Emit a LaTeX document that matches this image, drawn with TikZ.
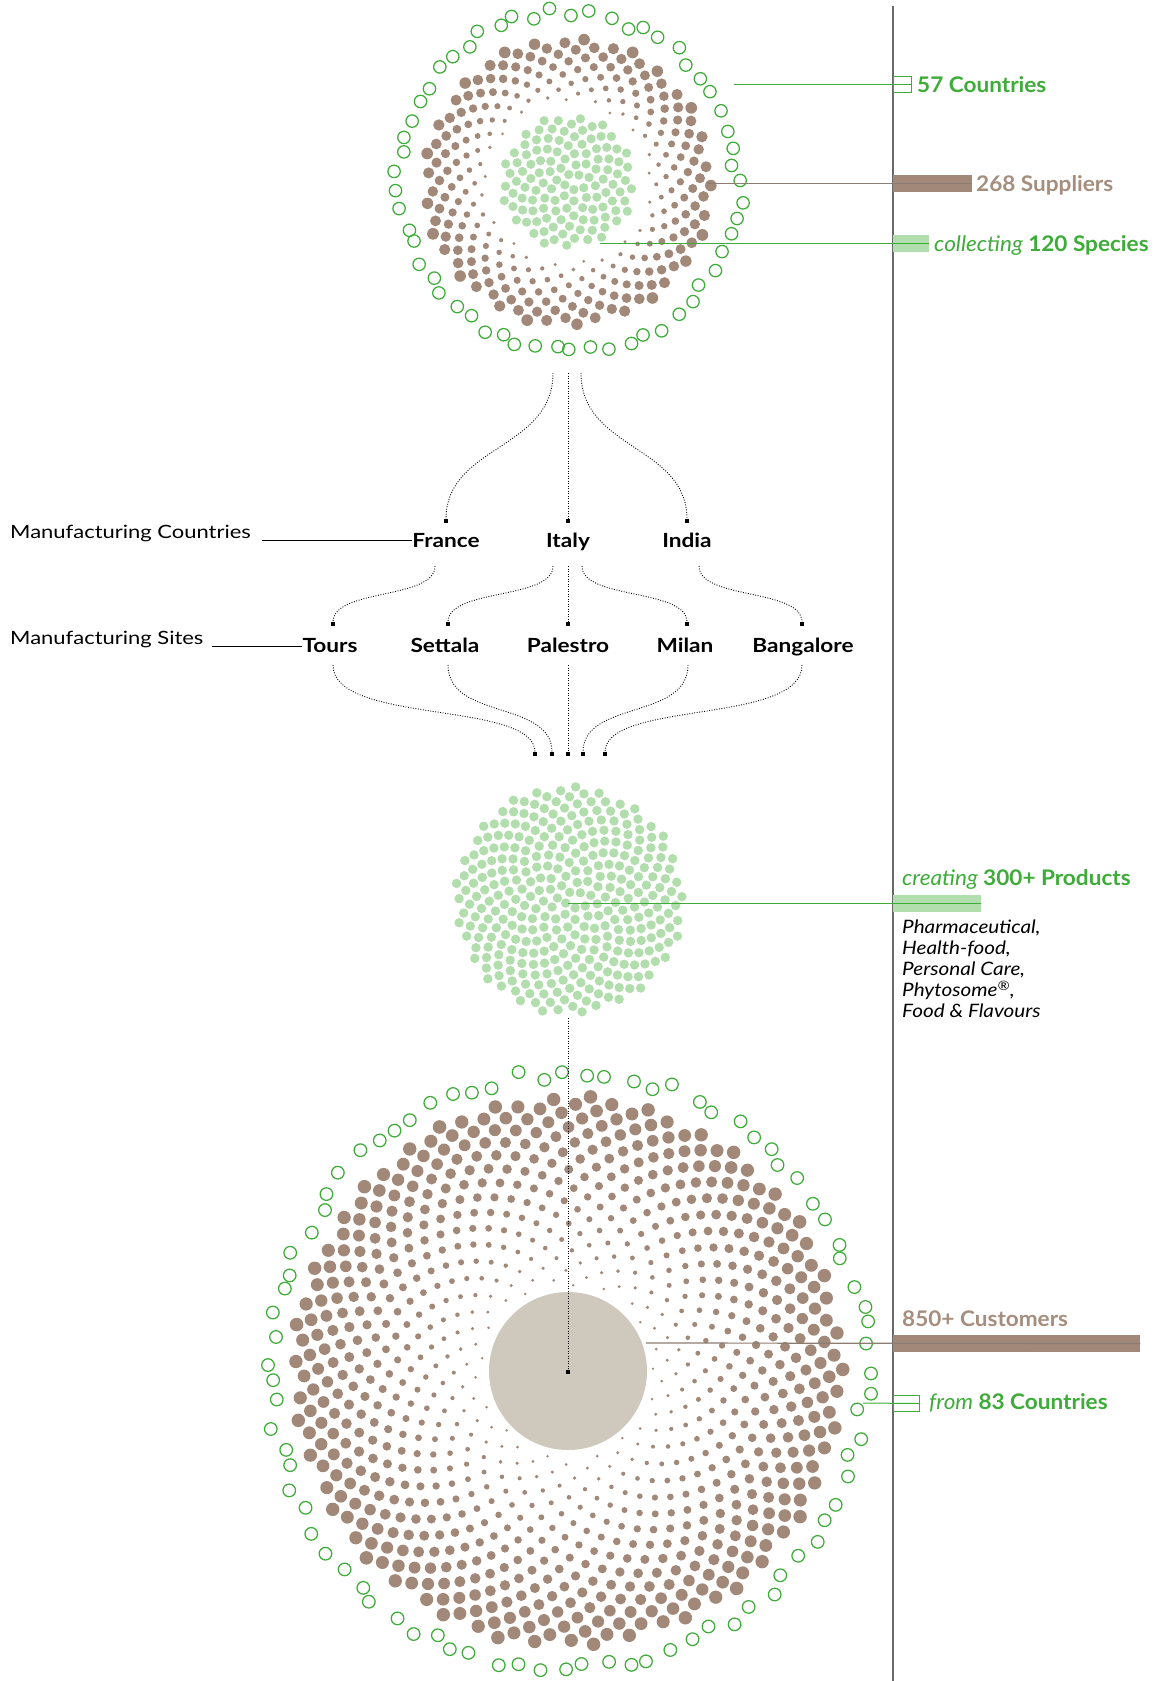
\documentclass[tikz,border=0pt]{standalone}
\usepackage{fontspec}
\setmainfont{Lato}[FakeStretch=1.12]
\newfontfamily\annotfont{Lato}[FakeStretch=1.05]
\newfontfamily\sidefont{Lato}[FakeStretch=1.2]
\newfontfamily\cntryfont{Lato}[FakeStretch=1.16]
\definecolor{tgreen}{RGB}{62,172,56}
\definecolor{lgreen}{RGB}{178,221,172}
\definecolor{brn}{RGB}{161,136,120}
\definecolor{brtext}{RGB}{166,142,126}
\definecolor{beige}{RGB}{207,200,188}
\definecolor{vgray}{RGB}{105,105,105}
\definecolor{brline}{RGB}{140,125,115}
\tikzset{
  dotline/.style={line width=0.9pt, dash pattern=on 0.9pt off 1.6pt, black},
  sqmark/.style={fill=black, minimum size=3.6pt, inner sep=0pt, outer sep=0pt},
  hollow/.style={draw=tgreen, line width=1.25pt},
  cntry/.style={font=\cntryfont\fontsize{19.5}{22}\selectfont\bfseries, inner sep=0pt},
  sidelab/.style={font=\sidefont\fontsize{18.3}{21}\selectfont, inner sep=0pt, anchor=base west},
  annot/.style={font=\annotfont\fontsize{21.5}{24}\selectfont, inner sep=0pt, anchor=base west},
  plist/.style={font=\fontsize{18.5}{21.2}\selectfont\itshape, inner sep=0pt, anchor=base west, align=left},
}
\begin{document}
\begin{tikzpicture}[x=1pt,y=-1pt]
\useasboundingbox (0,0) rectangle (1162,1681);
\fill[white] (0,0) rectangle (1162,1681);

% ---------- top cluster ----------
\begin{scope}[shift={(568,182)}]
  \foreach \n in {1,...,120}{
    \pgfmathsetmacro\r{6.1*sqrt(\n-0.5)}
    \pgfmathsetmacro\a{360*frac(\n*0.381966)}
    \fill[lgreen] (\a:\r) circle[radius=4.6];
  }
  \foreach \n in {120,...,387}{
    \pgfmathsetmacro\r{7.36*sqrt(\n)}
    \pgfmathsetmacro\a{360*frac(\n*0.381966)}
    \pgfmathsetmacro\u{max((sqrt(\n)-10.954)/8.718,0)}
    \pgfmathsetmacro\s{1.5+4.4*\u}
    \fill[brn] (\a:\r) circle[radius=\s];
  }
  \pgfmathsetseed{11}
  \foreach \n in {1,...,57}{
    \pgfmathsetmacro\a{\n*6.31579+3*(rnd-0.5)}
    \pgfmathsetmacro\r{164+13*rnd}
    \draw[hollow] (\a:\r) circle[radius=6.2];
  }
\end{scope}

% ---------- middle cluster ----------
\begin{scope}[shift={(569,900)}]
  \foreach \n in {1,...,330}{
    \pgfmathsetmacro\r{6.3*sqrt(\n-0.5)}
    \pgfmathsetmacro\a{360*frac(\n*0.381966)}
    \fill[lgreen] (\a:\r) circle[radius=4.7];
  }
\end{scope}

% ---------- bottom cluster ----------
\fill[beige] (568,1371) circle[radius=79];
\begin{scope}[shift={(568,1371)}]
  \foreach \n in {89,...,939}{
    \pgfmathsetmacro\r{9.0*sqrt(\n)}
    \pgfmathsetmacro\a{360*frac(\n*0.381966)}
    \pgfmathsetmacro\u{max((sqrt(\n)-9.434)/21.209,0.002)}
    \pgfmathsetmacro\s{1.3+5.5*pow(\u,1.1)}
    \fill[brn] (\a:\r) circle[radius=\s];
  }
  \pgfmathsetseed{5}
  \foreach \n in {1,...,83}{
    \pgfmathsetmacro\a{\n*4.33735+2.5*(rnd-0.5)}
    \pgfmathsetmacro\r{291+14*rnd}
    \draw[hollow] (\a:\r) circle[radius=6.3];
  }
\end{scope}

% ---------- vertical axis ----------
\coordinate (axT) at (893,6);
\coordinate (axB) at (893,1681);
\draw[vgray, line width=1.3pt] (axT) -- (axB);

% ---------- tree ----------
\coordinate (t1) at (553,373);
\coordinate (t2) at (568,373);
\coordinate (t3) at (581,373);
\node[sqmark] (sqFr) at (446,521) {};
\node[sqmark] (sqIt) at (568,521) {};
\node[sqmark] (sqIn) at (687,521) {};
\draw[dotline] (t1) .. controls (553,450) and (446,445) .. (sqFr);
\draw[dotline] (t2) -- (sqIt);
\draw[dotline] (t3) .. controls (581,450) and (687,445) .. (sqIn);

\node[cntry, anchor=base] (fr) at (446,547) {France};
\node[cntry, anchor=base] (it) at (568,547) {Italy};
\node[cntry, anchor=base] (in) at (687,547) {India};

\node[sidelab] (mcl) at (10,538) {Manufacturing Countries};
\coordinate (mclS) at (262,540);
\draw[black, line width=1pt] (mclS) -- (fr.west |- mclS);

\coordinate (fA) at (435,566);
\coordinate (iA) at (553,566);
\coordinate (iB) at (568,566);
\coordinate (iC) at (582,566);
\coordinate (nA) at (699,566);
\node[sqmark] (sqTo) at (333,624) {};
\node[sqmark] (sqSe) at (448,624) {};
\node[sqmark] (sqPa) at (568,624) {};
\node[sqmark] (sqMi) at (687,624) {};
\node[sqmark] (sqBa) at (802,624) {};
\draw[dotline] (fA) .. controls (435,600) and (333,588) .. (sqTo);
\draw[dotline] (iA) .. controls (553,600) and (448,588) .. (sqSe);
\draw[dotline] (iB) -- (sqPa);
\draw[dotline] (iC) .. controls (582,600) and (687,588) .. (sqMi);
\draw[dotline] (nA) .. controls (699,600) and (802,588) .. (sqBa);

\node[cntry, anchor=base] (to) at (330,652) {Tours};
\node[cntry, anchor=base] (se) at (445,652) {Settala};
\node[cntry, anchor=base] (pa) at (568,652) {Palestro};
\node[cntry, anchor=base] (mi) at (685,652) {Milan};
\node[cntry, anchor=base] (ba) at (803,652) {Bangalore};

\node[sidelab] (msl) at (10,644) {Manufacturing Sites};
\coordinate (mslS) at (212,646);
\draw[black, line width=1pt] (mslS) -- (to.west |- mslS);

\coordinate (sT) at (333,665);
\coordinate (sS) at (448,665);
\coordinate (sP) at (568,665);
\coordinate (sM) at (688,665);
\coordinate (sB) at (802,665);
\node[sqmark] (e1) at (535,754) {};
\node[sqmark] (e2) at (552,754) {};
\node[sqmark] (e3) at (568,754) {};
\node[sqmark] (e4) at (583,754) {};
\node[sqmark] (e5) at (605,754) {};
\draw[dotline] (sT) .. controls (333,725) and (535,700) .. (e1);
\draw[dotline] (sS) .. controls (448,720) and (552,700) .. (e2);
\draw[dotline] (sP) -- (e3);
\draw[dotline] (sM) .. controls (688,720) and (583,700) .. (e4);
\draw[dotline] (sB) .. controls (802,725) and (605,700) .. (e5);

% middle -> bottom
\coordinate (mB) at (568,1018);
\node[sqmark] (cB) at (568,1372) {};
\draw[dotline] (mB) -- (cB);

% ---------- annotations ----------
% 57 Countries
\coordinate (l57) at (734,84);
\node[draw=tgreen, line width=1pt, minimum width=18pt, minimum height=16pt, inner sep=0pt, anchor=west] (b57) at (893,84) {};
\draw[tgreen, line width=1pt] (l57) -- (b57.east);
\node[annot, text=tgreen] (t57) at (917,92) {\bfseries 57 Countries};

% 268 Suppliers
\coordinate (l268) at (707,183.5);
\node[fill=brn, minimum width=79pt, minimum height=17pt, inner sep=0pt, anchor=west] (b268) at (893,183.5) {};
\draw[brline, line width=1.2pt] (l268) -- (b268.east);
\node[annot, text=brtext] (t268) at (976,191) {\bfseries 268 Suppliers};

% 120 Species
\coordinate (l120) at (600,243.5);
\node[fill=lgreen, minimum width=36pt, minimum height=17pt, inner sep=0pt, anchor=west] (b120) at (893,243.5) {};
\draw[tgreen, line width=1pt] (l120) -- (b120.east);
\node[annot, text=tgreen] (t120) at (934,251) {\itshape collecting \bfseries\upshape 120 Species};

% 300+ Products
\coordinate (l300) at (568,903.5);
\node[fill=lgreen, minimum width=88pt, minimum height=17pt, inner sep=0pt, anchor=west] (b300) at (893,903.5) {};
\draw[tgreen, line width=1pt] (l300) -- (b300.east);
\node[annot, text=tgreen] (t300) at (902,885) {\itshape creating \bfseries\upshape 300+ Products};
\node[plist] (pl1) at (902,933) {Pharmaceutical,};
\node[plist] (pl2) at (902,954) {Health-food,};
\node[plist] (pl3) at (902,975) {Personal Care,};
\node[plist] (pl4) at (902,996.5) {Phytosome\textsuperscript{\textregistered},};
\node[plist] (pl5) at (902,1017.5) {Food \& Flavours};

% 850+ Customers
\coordinate (l850) at (646,1343);
\node[fill=brn, minimum width=247pt, minimum height=17pt, inner sep=0pt, anchor=west] (b850) at (893,1343.5) {};
\draw[brline, line width=1.2pt] (l850) -- (b850.east);
\node[annot, text=brtext] (t850) at (902,1326) {\bfseries 850+ Customers};

% 83 Countries
\coordinate (l83) at (863,1403);
\node[draw=tgreen, line width=1pt, minimum width=26pt, minimum height=16pt, inner sep=0pt, anchor=west] (b83) at (893,1403.5) {};
\draw[tgreen, line width=1pt] (l83) -- (b83.east);
\node[annot, text=tgreen] (t83) at (929,1409) {\itshape from \bfseries\upshape 83 Countries};
\end{tikzpicture}
\end{document}
